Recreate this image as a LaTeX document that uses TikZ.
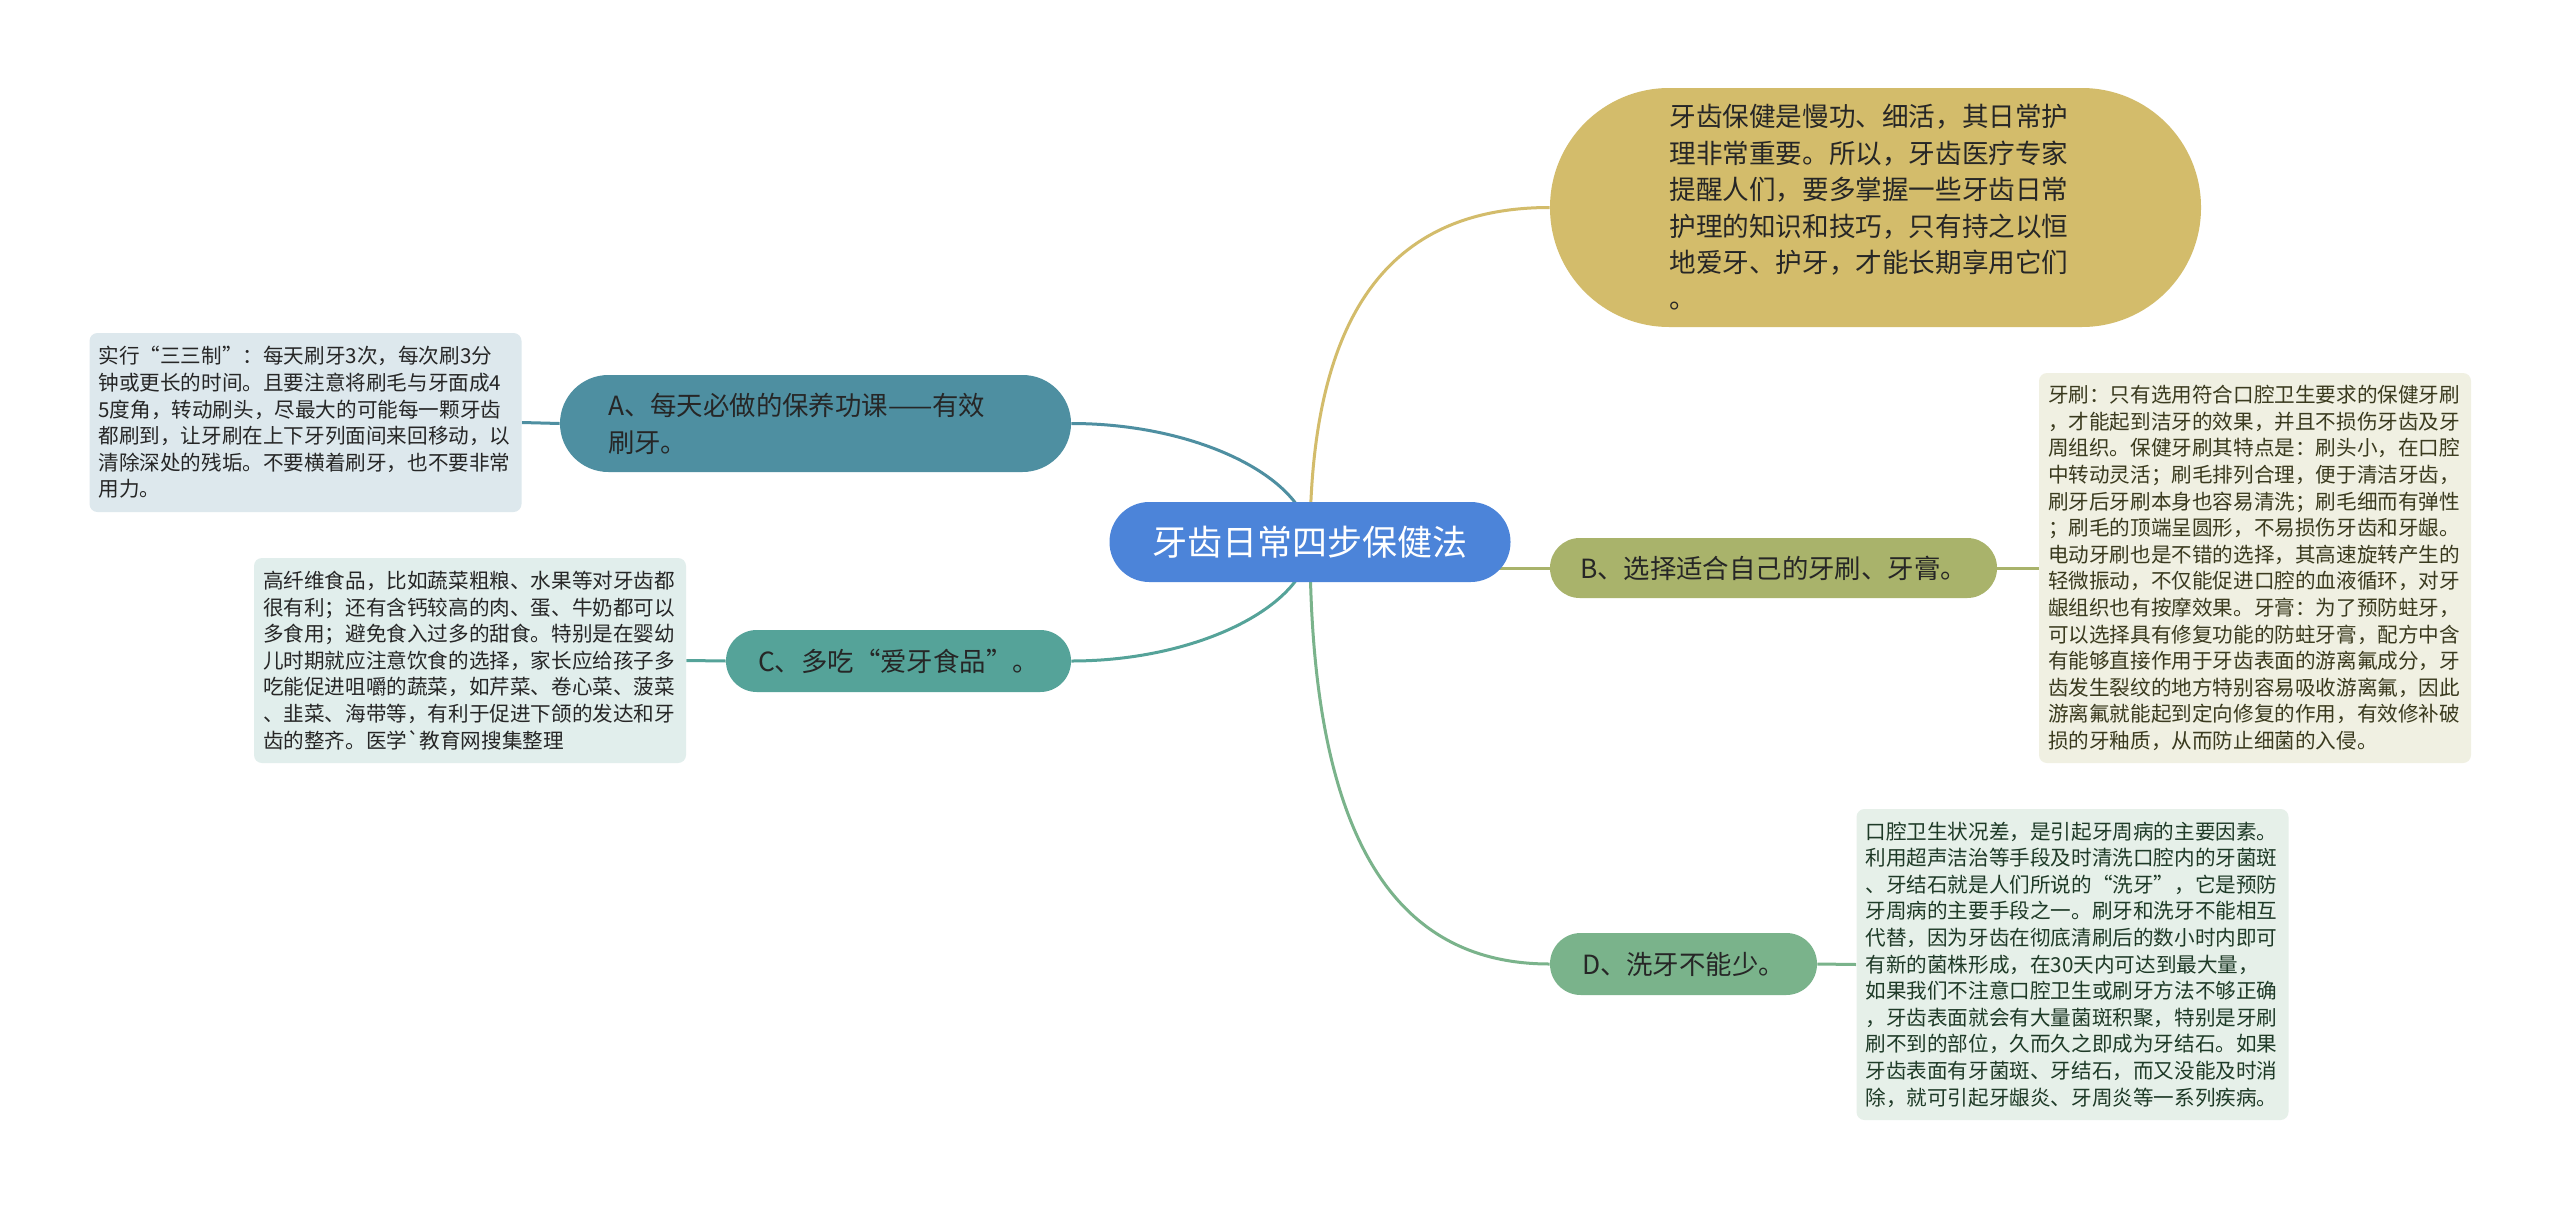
\documentclass[tikz,border=0pt]{standalone}
\usepackage{fontspec}
\newfontfamily\cjk{Noto Sans CJK SC}
\usetikzlibrary{backgrounds}
\definecolor{rootblue}{HTML}{4C84D9}
\definecolor{goldc}{HTML}{D3BC6B}
\definecolor{anodec}{HTML}{4E8FA1}
\definecolor{cnodec}{HTML}{55A399}
\definecolor{bnodec}{HTML}{A9B36B}
\definecolor{dnodec}{HTML}{7AB38B}
\definecolor{aboxc}{HTML}{DDE8ED}
\definecolor{cboxc}{HTML}{E1EEEC}
\definecolor{bboxc}{HTML}{F0F0E2}
\definecolor{dboxc}{HTML}{E6F0E9}
\definecolor{txtdark}{HTML}{262626}
\definecolor{btxt}{HTML}{3A3A1E}
\definecolor{dtxt}{HTML}{1E3A27}
\begin{document}
\begin{tikzpicture}[x=0.5pt,y=-0.5pt,
  pill/.style={draw=none, inner sep=0pt, align=left, text=txtdark,
    font=\cjk\fontsize{13.2pt}{18.4pt}\selectfont},
  detail/.style={draw=none, rounded corners=4pt, inner sep=0pt, align=left,
    text width=207pt, minimum width=216pt,
    font=\cjk\fontsize{10.3pt}{13.3pt}\selectfont},
  conn/.style={line width=1.5pt}]

\node[pill, fill=rootblue, text=white, minimum width=200.5pt, minimum height=40pt,
  rounded corners=19.9pt, font=\cjk\fontsize{17.5pt}{20pt}\selectfont]
  (root) at (1310,542) {牙齿日常四步保健法};

\node[pill, fill=goldc, text=txtdark, minimum width=325.5pt, minimum height=119.5pt,
  rounded corners=59.6pt, text width=206pt,
  font=\cjk\fontsize{13.3pt}{18.2pt}\selectfont]
  (gold) at (1875.5,207.5) {牙齿保健是慢功、细活，其日常护\\
理非常重要。所以，牙齿医疗专家\\
提醒人们，要多掌握一些牙齿日常\\
护理的知识和技巧，只有持之以恒\\
地爱牙、护牙，才能长期享用它们\\
。};

\node[pill, fill=bnodec, minimum width=223.5pt, minimum height=30pt,
  rounded corners=14.9pt] (bnode) at (1773.5,568) {B、选择适合自己的牙刷、牙膏。};

\node[pill, fill=dnodec, minimum width=133.5pt, minimum height=31pt,
  rounded corners=15.4pt] (dnode) at (1683.5,964) {D、洗牙不能少。};

\node[pill, fill=anodec, minimum width=255.5pt, minimum height=48.5pt,
  rounded corners=24.2pt, text width=207.5pt] (anode) at (815.5,423.5)
  {A、每天必做的保养功课——有效\\刷牙。};

\node[pill, fill=cnodec, minimum width=172.5pt, minimum height=31pt,
  rounded corners=15.4pt] (cnode) at (898.5,661) {C、多吃“爱牙食品”。};

\node[detail, fill=aboxc, text=txtdark, minimum height=89.5pt] (abox) at (305.5,422.5)
{实行“三三制”：每天刷牙3次，每次刷3分\\
钟或更长的时间。且要注意将刷毛与牙面成4\\
5度角，转动刷头，尽最大的可能每一颗牙齿\\
都刷到，让牙刷在上下牙列面间来回移动，以\\
清除深处的残垢。不要横着刷牙，也不要非常\\
用力。};

\node[detail, fill=cboxc, text=txtdark, minimum height=102.5pt] (cbox) at (470,660.5)
{高纤维食品，比如蔬菜粗粮、水果等对牙齿都\\
很有利；还有含钙较高的肉、蛋、牛奶都可以\\
多食用；避免食入过多的甜食。特别是在婴幼\\
儿时期就应注意饮食的选择，家长应给孩子多\\
吃能促进咀嚼的蔬菜，如芹菜、卷心菜、菠菜\\
、韭菜、海带等，有利于促进下颌的发达和牙\\
齿的整齐。医学`教育网搜集整理};

\node[detail, fill=bboxc, text=btxt, minimum height=195pt] (bbox) at (2255,568)
{牙刷：只有选用符合口腔卫生要求的保健牙刷\\
，才能起到洁牙的效果，并且不损伤牙齿及牙\\
周组织。保健牙刷其特点是：刷头小，在口腔\\
中转动灵活；刷毛排列合理，便于清洁牙齿，\\
刷牙后牙刷本身也容易清洗；刷毛细而有弹性\\
；刷毛的顶端呈圆形，不易损伤牙齿和牙龈。\\
电动牙刷也是不错的选择，其高速旋转产生的\\
轻微振动，不仅能促进口腔的血液循环，对牙\\
龈组织也有按摩效果。牙膏：为了预防蛀牙，\\
可以选择具有修复功能的防蛀牙膏，配方中含\\
有能够直接作用于牙齿表面的游离氟成分，牙\\
齿发生裂纹的地方特别容易吸收游离氟，因此\\
游离氟就能起到定向修复的作用，有效修补破\\
损的牙釉质，从而防止细菌的入侵。};

\node[detail, fill=dboxc, text=dtxt, minimum height=155.5pt] (dbox) at (2072.5,964.5)
{口腔卫生状况差，是引起牙周病的主要因素。\\
利用超声洁治等手段及时清洗口腔内的牙菌斑\\
、牙结石就是人们所说的“洗牙”，它是预防\\
牙周病的主要手段之一。刷牙和洗牙不能相互\\
代替，因为牙齿在彻底清刷后的数小时内即可\\
有新的菌株形成，在30天内可达到最大量，\\
如果我们不注意口腔卫生或刷牙方法不够正确\\
，牙齿表面就会有大量菌斑积聚，特别是牙刷\\
刷不到的部位，久而久之即成为牙结石。如果\\
牙齿表面有牙菌斑、牙结石，而又没能及时消\\
除，就可引起牙龈炎、牙周炎等一系列疾病。};

\begin{scope}[on background layer]
\fill[white] (0,0) rectangle (2560,1210);
\draw[conn, goldc] (root.center) .. controls (1310,300) and (1400,207.5) .. (gold.west);
\draw[conn, bnodec] (root.center |- bnode.west) -- (bnode.west);
\draw[conn, dnodec] (root.center) .. controls (1310,847) and (1400,964) .. (dnode.west);
\draw[conn, anodec] (root.center) .. controls (1310,480) and (1200,423.5) .. (anode.east);
\draw[conn, cnodec] (root.center) .. controls (1310,604) and (1200,661) .. (cnode.east);
\draw[conn, anodec] (anode.west) -- (abox.east);
\draw[conn, cnodec] (cnode.west) -- (cbox.east);
\draw[conn, bnodec] (bnode.east) -- (bbox.west);
\draw[conn, dnodec] (dnode.east) -- (dbox.west);
\end{scope}
\useasboundingbox (0,0) rectangle (2560,1210);
\end{tikzpicture}
\end{document}
